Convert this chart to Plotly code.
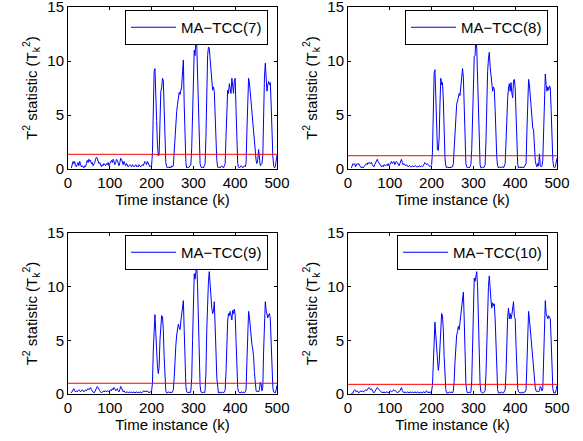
import plotly.graph_objects as go

# time index (k), sampled every 2 steps
k = list(range(8, 501, 2))

ma7 = [
    0.1, 0.4, 0.7, 0.5, 0.7, 0.3, 0.2, 0.4, 0.6, 0.3, 0.7, 0.5, 0.2, 0.3, 0.2, 0.1, 0.3, 0.2, 0.5, 0.8, 0.6,
    0.9, 0.7, 0.8, 0.5, 0.6, 0.3, 0.4, 0.6, 0.9, 1.1, 1.0, 0.7, 0.5, 0.6, 0.3, 0.2, 0.4, 0.3, 0.5, 0.4, 0.3, 0.5, 0.4, 0.6, 0.3,
    0.5, 0.7, 0.8, 0.6, 0.9, 0.7, 0.4, 0.6, 0.9, 0.8, 0.5, 0.3, 0.6, 1.0, 0.9, 0.5, 0.4, 0.7, 0.5, 0.3, 0.5, 0.4, 0.2, 0.3, 0.4,
    0.3, 0.2, 0.4, 0.3, 0.2, 0.3, 0.4, 0.2, 0.3, 0.2, 0.4, 0.3, 0.2, 0.3, 0.4, 0.3, 0.5, 0.7, 0.6, 0.4, 0.7, 0.5, 0.3, 0.2, 0.3,
    0.3, 1.5, 5.0, 9.0, 9.3, 7.5, 4.5, 2.3, 1.2, 1.3, 4.3, 7.2, 7.5, 8.4, 8.2, 5.0, 2.0, 0.6, 0.2, 0.1, 0.2, 0.1, 0.2, 0.1, 0.3,
    0.2, 0.3, 1.5, 3.5, 4.8, 5.3, 6.0, 6.5, 7.1, 6.9, 7.4, 7.6, 9.0, 10.1, 6.0, 2.5, 0.6, 0.1, 0.2, 0.1, 0.2, 0.3, 0.4, 2.0, 6.0,
    9.5, 11.0, 10.5, 12.1, 11.5, 9.0, 5.0, 2.0, 0.5, 0.2, 0.1, 0.2, 0.1, 0.3, 0.5, 3.0, 7.5, 10.5, 11.3, 11.2, 10.2, 9.0, 7.8, 7.3, 7.6,
    7.2, 5.0, 2.5, 0.8, 0.2, 0.1, 0.2, 0.1, 0.2, 0.3, 0.2, 0.1, 0.3, 0.5, 3.0, 6.5, 7.3, 7.0, 7.9, 7.4, 7.0, 8.4, 7.6, 7.0, 8.2,
    8.4, 5.5, 2.0, 0.5, 0.2, 0.1, 0.2, 0.3, 0.2, 0.1, 0.2, 0.3, 0.2, 0.5, 3.5, 7.0, 8.4, 8.0, 7.0, 6.5, 5.2, 4.3, 3.9, 2.3, 1.2,
    0.8, 0.5, 0.9, 1.8, 0.6, 0.3, 0.4, 0.5, 1.2, 5.5, 8.5, 9.8, 7.5, 7.2, 7.8, 8.1, 7.8, 8.0, 6.0, 3.0, 1.2, 0.3, 0.1, 0.2, 0.8,
    1.3,
]

ma8 = [
    0.1, 0.3, 0.5, 0.4, 0.5, 0.2, 0.3, 0.5, 0.4, 0.5, 0.3, 0.2, 0.1, 0.2, 0.1, 0.2, 0.3, 0.5, 0.5, 0.4, 0.6,
    0.5, 0.6, 0.5, 0.6, 0.4, 0.3, 0.2, 0.4, 0.6, 0.8, 0.9, 0.7, 0.6, 0.5, 0.3, 0.2, 0.3, 0.2, 0.4, 0.3, 0.3, 0.4, 0.3, 0.5, 0.3,
    0.4, 0.5, 0.7, 0.5, 0.6, 0.7, 0.4, 0.5, 0.7, 0.6, 0.4, 0.3, 0.5, 0.8, 0.9, 0.6, 0.4, 0.5, 0.4, 0.3, 0.4, 0.3, 0.2, 0.3, 0.3,
    0.2, 0.2, 0.3, 0.2, 0.2, 0.3, 0.3, 0.2, 0.2, 0.2, 0.3, 0.2, 0.2, 0.3, 0.2, 0.3, 0.5, 0.6, 0.5, 0.4, 0.5, 0.4, 0.3, 0.2, 0.3,
    0.4, 1.5, 5.5, 8.8, 9.2, 6.5, 3.0, 1.8, 1.7, 2.8, 6.0, 8.4, 7.8, 8.0, 6.5, 3.5, 1.0, 0.3, 0.1, 0.2, 0.1, 0.1, 0.2, 0.1, 0.2,
    0.2, 0.5, 2.0, 4.2, 4.6, 6.0, 6.3, 6.6, 7.0, 6.8, 7.5, 8.0, 9.3, 8.5, 5.0, 2.0, 0.5, 0.2, 0.1, 0.2, 0.1, 0.2, 0.4, 1.8, 5.5,
    9.0, 10.4, 10.5, 12.1, 11.2, 8.5, 4.5, 1.8, 0.4, 0.1, 0.1, 0.2, 0.1, 0.2, 0.4, 2.5, 6.5, 9.0, 10.2, 10.8, 9.5, 8.5, 7.5, 7.2, 7.6,
    7.4, 5.5, 2.8, 1.0, 0.3, 0.1, 0.2, 0.1, 0.1, 0.2, 0.2, 0.1, 0.3, 0.5, 2.5, 6.0, 6.6, 7.5, 7.9, 7.2, 8.0, 7.0, 6.6, 8.2, 8.3,
    7.5, 5.0, 1.8, 0.4, 0.1, 0.2, 0.1, 0.2, 0.1, 0.2, 0.1, 0.2, 0.3, 0.5, 3.5, 7.0, 8.3, 7.8, 6.8, 5.5, 4.8, 3.8, 3.6, 2.0, 0.8,
    0.4, 0.2, 0.5, 0.3, 1.4, 0.3, 0.2, 0.3, 0.8, 4.5, 7.5, 8.8, 7.8, 7.2, 7.6, 7.3, 7.7, 7.5, 5.5, 2.5, 0.8, 0.2, 0.1, 0.2, 0.6,
    1.0,
]

ma9 = [
    0.1, 0.2, 0.4, 0.5, 0.3, 0.2, 0.3, 0.2, 0.3, 0.4, 0.3, 0.2, 0.3, 0.4, 0.3, 0.2, 0.3, 0.4, 0.3, 0.4, 0.5,
    0.4, 0.5, 0.6, 0.4, 0.3, 0.2, 0.1, 0.2, 0.4, 0.6, 0.7, 0.6, 0.4, 0.3, 0.2, 0.1, 0.2, 0.2, 0.3, 0.2, 0.3, 0.2, 0.3, 0.3, 0.2,
    0.3, 0.4, 0.3, 0.5, 0.4, 0.6, 0.5, 0.3, 0.4, 0.5, 0.3, 0.2, 0.4, 0.7, 0.6, 0.3, 0.2, 0.3, 0.2, 0.1, 0.2, 0.2, 0.1, 0.2, 0.2,
    0.1, 0.2, 0.1, 0.2, 0.2, 0.1, 0.2, 0.2, 0.1, 0.2, 0.1, 0.2, 0.2, 0.1, 0.2, 0.3, 0.3, 0.2, 0.3, 0.2, 0.3, 0.2, 0.1, 0.2, 0.2,
    0.3, 1.0, 4.0, 7.0, 7.4, 5.8, 3.5, 2.6, 1.9, 2.5, 5.0, 7.0, 7.3, 7.2, 6.0, 3.5, 1.2, 0.3, 0.1, 0.1, 0.2, 0.1, 0.1, 0.2, 0.1,
    0.2, 0.4, 1.5, 3.5, 4.5, 5.5, 6.0, 6.5, 6.2, 6.0, 6.8, 7.5, 8.2, 8.7, 6.0, 2.5, 0.7, 0.2, 0.1, 0.1, 0.2, 0.1, 0.3, 1.5, 5.0,
    8.5, 11.2, 10.7, 11.5, 12.1, 10.0, 6.0, 2.5, 0.8, 0.2, 0.1, 0.1, 0.2, 0.1, 0.3, 2.0, 6.0, 9.0, 10.5, 11.4, 10.0, 9.2, 8.0, 7.5, 7.7,
    8.6, 7.0, 4.0, 1.5, 0.4, 0.1, 0.1, 0.2, 0.1, 0.1, 0.2, 0.1, 0.2, 0.4, 2.0, 5.5, 6.8, 7.5, 7.3, 7.7, 7.4, 6.9, 7.8, 7.5, 7.9,
    7.3, 5.0, 2.0, 0.6, 0.2, 0.1, 0.1, 0.2, 0.1, 0.1, 0.2, 0.1, 0.2, 0.4, 3.0, 6.5, 7.7, 7.2, 6.0, 5.5, 4.6, 4.2, 3.5, 2.0, 0.8,
    0.3, 0.2, 0.3, 0.2, 0.4, 1.1, 1.0, 0.3, 0.6, 4.0, 7.5, 8.6, 7.8, 7.3, 7.1, 7.4, 7.5, 7.0, 5.0, 2.0, 0.6, 0.2, 0.1, 0.1, 0.4,
    0.8,
]

ma10 = [
    0.05, 0.05, 0.1, 0.3, 0.4, 0.3, 0.2, 0.3, 0.2, 0.1, 0.2, 0.3, 0.2, 0.3, 0.2, 0.2, 0.3, 0.4, 0.3, 0.4, 0.5,
    0.6, 0.5, 0.4, 0.5, 0.3, 0.2, 0.1, 0.2, 0.3, 0.5, 0.6, 0.5, 0.4, 0.3, 0.2, 0.1, 0.1, 0.2, 0.1, 0.2, 0.1, 0.2, 0.2, 0.1, 0.2,
    0.2, 0.3, 0.2, 0.3, 0.3, 0.4, 0.3, 0.3, 0.2, 0.1, 0.2, 0.2, 0.3, 0.5, 0.6, 0.3, 0.2, 0.1, 0.2, 0.1, 0.1, 0.2, 0.1, 0.1, 0.2,
    0.1, 0.1, 0.2, 0.1, 0.1, 0.2, 0.1, 0.1, 0.2, 0.1, 0.1, 0.1, 0.2, 0.1, 0.1, 0.2, 0.2, 0.1, 0.2, 0.3, 0.2, 0.1, 0.2, 0.1, 0.2,
    0.3, 0.8, 3.0, 6.0, 6.7, 5.5, 4.5, 3.0, 2.2, 2.8, 5.0, 7.0, 7.5, 7.3, 6.0, 3.5, 1.2, 0.4, 0.1, 0.1, 0.1, 0.2, 0.1, 0.1, 0.2,
    0.1, 0.3, 1.2, 3.0, 4.5, 5.5, 5.8, 6.3, 6.0, 6.8, 7.5, 8.2, 9.0, 9.5, 7.0, 3.0, 1.0, 0.3, 0.1, 0.1, 0.2, 0.1, 0.2, 1.2, 4.5,
    8.0, 10.8, 10.5, 11.0, 11.4, 10.0, 6.5, 3.0, 0.9, 0.2, 0.1, 0.1, 0.1, 0.2, 0.3, 1.8, 5.5, 8.5, 10.0, 11.0, 9.5, 8.8, 8.0, 8.5, 8.2,
    8.4, 7.0, 4.0, 1.5, 0.4, 0.1, 0.1, 0.1, 0.2, 0.1, 0.1, 0.1, 0.2, 0.4, 2.0, 5.5, 7.2, 8.0, 7.0, 7.5, 7.0, 7.4, 8.0, 8.6, 7.2,
    7.0, 4.5, 1.8, 0.5, 0.2, 0.1, 0.1, 0.1, 0.2, 0.1, 0.1, 0.2, 0.2, 0.4, 3.0, 6.5, 7.7, 7.0, 6.0, 5.3, 4.8, 3.8, 2.8, 1.5, 0.6,
    0.3, 0.2, 0.3, 0.2, 0.3, 0.7, 0.6, 0.3, 0.5, 4.0, 7.5, 8.7, 7.5, 7.3, 7.0, 7.3, 7.2, 7.0, 5.0, 2.0, 0.5, 0.1, 0.1, 0.1, 0.4,
    0.8,
]

series = [ma7, ma8, ma9, ma10]
names = ["MA\u2212TCC(7)", "MA\u2212TCC(8)", "MA\u2212TCC(9)", "MA\u2212TCC(10)"]
thresholds = [1.36, 1.23, 1.0, 0.9]
k_range = [0, 500]

x_ticks = [0, 100, 200, 300, 400, 500]
y_ticks = [0, 5, 10, 15]

W, H = 583, 441
FONT = "Liberation Sans, Arial, Helvetica, sans-serif"

x_dom = [[68 / W, 277 / W], [348 / W, 557 / W]]
y_dom = [[1 - 169 / H, 1 - 7 / H], [1 - 394 / H, 1 - 233 / H]]
legend_pos = [(268 / W, 1 - 10 / H), (548 / W, 1 - 10 / H),
              (268 / W, 1 - 235 / H), (548 / W, 1 - 235 / H)]

fig = go.Figure()
layout = dict(
    width=W, height=H, margin=dict(l=0, r=0, t=0, b=0, autoexpand=False),
    paper_bgcolor="white", plot_bgcolor="white",
    font=dict(family=FONT, size=15, color="black"),
    showlegend=True,
)

for i in range(4):
    row, col = divmod(i, 2)
    sfx = "" if i == 0 else str(i + 1)
    leg = "legend" if i == 0 else f"legend{i + 1}"
    fig.add_trace(go.Scatter(
        x=k, y=series[i], mode="lines", name=names[i],
        line=dict(color="#0000FF", width=1),
        xaxis="x" + sfx, yaxis="y" + sfx, legend=leg,
    ))
    fig.add_trace(go.Scatter(
        x=k_range, y=[thresholds[i]] * 2, mode="lines", showlegend=False,
        line=dict(color="#FF0000", width=1),
        xaxis="x" + sfx, yaxis="y" + sfx,
    ))
    axis_common = dict(
        showgrid=False, zeroline=False, showline=True, linecolor="black",
        linewidth=1, mirror="allticks", ticks="inside", ticklen=3,
        tickcolor="black", tickfont=dict(family=FONT, size=15, color="black"),
        automargin=False, ticklabeloverflow="allow",
    )
    layout["xaxis" + sfx] = dict(
        axis_common, domain=x_dom[col], anchor="y" + sfx, range=[0, 500],
        tickvals=x_ticks, ticktext=[str(t) for t in x_ticks],
        title=dict(text="Time instance (k)", standoff=2,
                   font=dict(family=FONT, size=15, color="black")),
    )
    layout["yaxis" + sfx] = dict(
        axis_common, domain=y_dom[row], anchor="x" + sfx, range=[0, 15],
        tickvals=y_ticks, ticktext=[str(t) for t in y_ticks],
        title=dict(text="T<sup>2</sup> statistic (T<sub>k</sub><sup>2</sup>)", standoff=6,
                   font=dict(family=FONT, size=15, color="black")),
    )
    layout[leg] = dict(
        x=legend_pos[i][0], y=legend_pos[i][1], xanchor="right", yanchor="top",
        bgcolor="white", bordercolor="black", borderwidth=1,
        font=dict(family=FONT, size=15, color="black"),
        itemwidth=45,
    )

fig.update_layout(**layout)
fig.write_html(
    "out.html",
    config={"displayModeBar": False, "staticPlot": True},
    post_script="document.body.style.margin='0';document.body.style.padding='0';",
)
